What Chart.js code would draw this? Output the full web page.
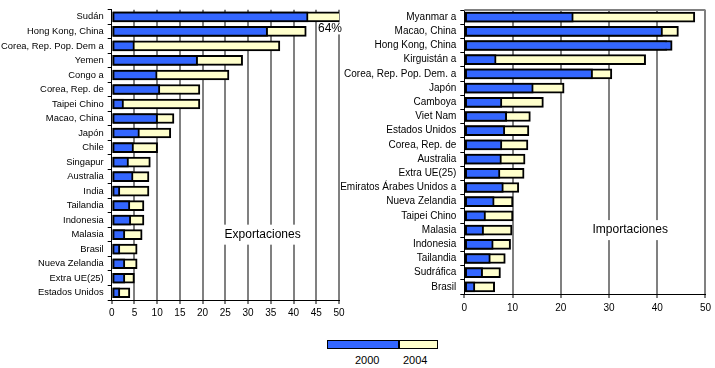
<!DOCTYPE html>
<html lang="es">
<head>
  <meta charset="UTF-8">
  <title>Exportaciones e importaciones</title>
  <script src="https://cdn.jsdelivr.net/npm/chart.js"></script>
  <style>
    body {
      margin: 0;
      background: #fff;
      font-family: "Liberation Sans", Arial, sans-serif;
    }
    .wrap {
      position: relative;
      width: 715px;
      height: 368px;
      overflow: hidden;
    }
    #expChart { position: absolute; left: 0; top: 0; }
    #impChart { position: absolute; left: 340px; top: 0; }
    .key {
      position: absolute;
      top: 340px;
      height: 9px;
      border: 1px solid #000;
      box-sizing: border-box;
    }
    .key-label {
      position: absolute;
      top: 354px;
      font-size: 11px;
      color: #000;
    }
  </style>
</head>
<body>
  <div class="wrap">
    <canvas id="expChart" width="355" height="320"></canvas>
    <canvas id="impChart" width="375" height="320"></canvas>

    <!-- legend -->
    <div class="key" style="left:327px; width:72px; background:#3366ff;"></div>
    <div class="key" style="left:399px; width:39px; background:#ffffcc;"></div>
    <div class="key-label" style="left:355px;">2000</div>
    <div class="key-label" style="left:403px;">2004</div>
  </div>

  <script>
    // Exportaciones
    const exportCountries = ["Sudán", "Hong Kong, China", "Corea, Rep. Pop. Dem a", "Yemen", "Congo a",
      "Corea, Rep. de", "Taipei Chino", "Macao, China", "Japón", "Chile", "Singapur", "Australia",
      "India", "Tailandia", "Indonesia", "Malasia", "Brasil", "Nueva Zelandia", "Extra UE(25)", "Estados Unidos"];
    const exports2000 = [43.2, 34.3, 5.0, 18.9, 10.0, 10.6, 2.6, 10.1, 6.1, 4.8,
      3.7, 4.7, 1.8, 4.0, 4.2, 2.9, 1.8, 2.9, 2.9, 1.8];
    const exports2004 = [64, 42.8, 37.0, 28.8, 25.8, 19.4, 19.4, 13.7, 13.0, 10.1,
      8.5, 8.2, 8.2, 7.1, 7.1, 6.7, 5.6, 5.6, 5.0, 4.0];

    // Importaciones
    const importCountries = ["Myanmar a", "Macao, China", "Hong Kong, China", "Kirguistán a",
      "Corea, Rep. Pop. Dem. a", "Japón", "Camboya", "Viet Nam", "Estados Unidos", "Corea, Rep. de",
      "Australia", "Extra UE(25)", "Emiratos Árabes Unidos a", "Nueva Zelandia", "Taipei Chino",
      "Malasia", "Indonesia", "Tailandia", "Sudráfica", "Brasil"];
    const imports2000 = [22.6, 41.1, 43.1, 6.6, 26.6, 14.3, 7.8, 8.8, 8.4, 7.8,
      7.7, 7.4, 8.1, 6.2, 4.4, 4.0, 6.0, 5.4, 3.8, 2.2];
    const imports2004 = [47.8, 44.4, 42.0, 37.6, 30.6, 20.7, 16.4, 13.7, 13.4, 13.2,
      12.6, 12.4, 11.3, 10.1, 10.1, 9.9, 9.6, 8.5, 7.5, 6.3];

    const FONT = '"Liberation Sans", Arial, sans-serif';
    const BLUE = '#3366ff';
    const CREAM = '#ffffcc';
    const GRID = '#808080';

    // panel title with white box, optional note, optional top frame line
    const panelLabel = {
      id: 'panelLabel',
      beforeDatasetsDraw(chart, args, opts) {
        if (!opts.topLine) return;
        const { ctx, chartArea } = chart;
        ctx.save();
        ctx.strokeStyle = GRID;
        ctx.lineWidth = 2;
        ctx.beginPath();
        ctx.moveTo(chartArea.left, chartArea.top);
        ctx.lineTo(chartArea.right, chartArea.top);
        ctx.stroke();
        ctx.restore();
      },
      afterDatasetsDraw(chart, args, opts) {
        const { ctx, scales: { x, y }, chartArea } = chart;
        ctx.save();
        ctx.font = '12px ' + FONT;
        ctx.textBaseline = 'middle';
        const cx = x.getPixelForValue(opts.value);
        const cy = y.getPixelForValue(opts.row);
        const w = ctx.measureText(opts.text).width;
        ctx.fillStyle = '#fff';
        ctx.fillRect(cx - w / 2 - 6, cy - 10, w + 12, 20);
        ctx.fillStyle = '#000';
        ctx.textAlign = 'center';
        ctx.fillText(opts.text, cx, cy);

        if (opts.note) {
          const ny = y.getPixelForValue(opts.note.row) - 3;
          const nw = ctx.measureText(opts.note.text).width;
          ctx.fillStyle = '#fff';
          ctx.fillRect(chartArea.right + 3 - nw, ny - 6, nw, 12);
          ctx.fillStyle = '#000';
          ctx.textAlign = 'right';
          ctx.fillText(opts.note.text, chartArea.right + 3, ny);
        }
        ctx.restore();
      }
    };

    function makeChart(id, labels, d2000, d2004, cfg) {
      return new Chart(document.getElementById(id), {
        type: 'bar',
        data: {
          labels: labels,
          datasets: [
            {
              label: '2000',
              data: d2000,
              backgroundColor: BLUE,
              borderColor: '#000',
              borderWidth: 2,
              borderSkipped: false,
              barThickness: 10,
              grouped: false,
              order: 0
            },
            {
              label: '2004',
              data: d2004,
              backgroundColor: CREAM,
              borderColor: '#000',
              borderWidth: 2,
              borderSkipped: false,
              barThickness: 10,
              grouped: false,
              order: 1
            }
          ]
        },
        options: {
          indexAxis: 'y',
          responsive: false,
          animation: false,
          layout: { padding: { top: cfg.top, right: cfg.right, left: 0, bottom: 0 } },
          plugins: {
            legend: { display: false },
            tooltip: { enabled: false },
            panelLabel: cfg.label
          },
          scales: {
            x: {
              min: 0,
              max: 50,
              ticks: {
                stepSize: cfg.step,
                color: '#000',
                padding: cfg.tickPad,
                font: { family: FONT, size: 10 }
              },
              grid: {
                color: (c) => c.tick && c.tick.value === 0 ? 'rgba(0,0,0,0)' : GRID,
                lineWidth: 2,
                tickColor: '#000',
                tickWidth: 1,
                tickLength: 4
              },
              border: { color: '#000', width: 1 },
              afterFit: (s) => { s.height = cfg.xHeight; }
            },
            y: {
              ticks: {
                color: '#000',
                padding: cfg.labelPad,
                autoSkip: false,
                font: { family: FONT, size: cfg.labelSize }
              },
              grid: {
                drawOnChartArea: false,
                tickColor: '#000',
                tickLength: 4
              },
              border: { color: '#000', width: 1 },
              afterFit: (s) => { s.width = cfg.yWidth; }
            }
          }
        },
        plugins: [panelLabel]
      });
    }

    makeChart('expChart', exportCountries, exports2000, exports2004, {
      top: 7, right: 16, step: 5, tickPad: 3, xHeight: 20, yWidth: 111.7, labelPad: 4, labelSize: 9.4,
      label: { text: 'Exportaciones', value: 33.2, row: 15, note: { text: '64%', row: 1 } }
    });

    makeChart('impChart', importCountries, imports2000, imports2004, {
      top: 4, right: 5.3, step: 10, tickPad: 4, xHeight: 26, yWidth: 124.3, labelPad: 4, labelSize: 10,
      label: { text: 'Importaciones', value: 34.4, row: 15, topLine: true }
    });
  </script>
</body>
</html>
